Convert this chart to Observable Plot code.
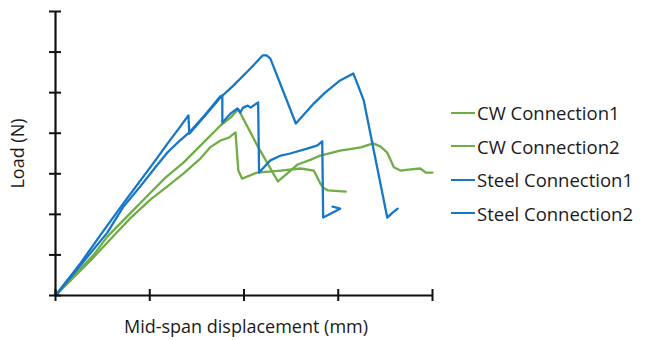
<!DOCTYPE html>
<html>
<head>
<meta charset="utf-8">
<script src="https://cdn.jsdelivr.net/npm/d3@7"></script>
<script src="https://cdn.jsdelivr.net/npm/@observablehq/plot@0.6"></script>
<style>
  html, body { margin: 0; padding: 0; background: #fff; }
  #wrap { position: relative; width: 646px; height: 340px; font-family: "Open Sans", "Noto Sans", sans-serif; }
  #legend { position: absolute; left: 451px; top: 96px; }
  .item { display: flex; align-items: center; height: 33.5px; font-size: 18.5px; color: #1a1a1a; }
  .sw { width: 24px; height: 0; border-top: 2.3px solid; margin-right: 2px; }
</style>
</head>
<body>
<div id="wrap"></div>
<script>
// Categories / series names
const seriesNames = ["CW Connection1", "CW Connection2", "Steel Connection1", "Steel Connection2"];
const seriesColors = ["#70ad47", "#70ad47", "#1677c7", "#1677c7"];

// Axis ticks (no labels shown in the reference)
const xTicks = [0, 1, 2, 3, 4];
const yTicks = [0, 1, 2, 3, 4, 5, 6, 7];

// Series values (displacement, load), arbitrary units
const cw1X = [0, 0.14, 0.27, 0.40, 0.55, 0.74, 1.01, 1.17, 1.36, 1.54, 1.75, 1.86, 1.94, 2.14, 2.36, 2.46, 2.57, 2.71, 2.81, 3.02, 3.24, 3.37, 3.45, 3.52, 3.59, 3.66, 3.77, 3.87, 3.93, 4.00];
const cw1Y = [0, 0.35, 0.67, 0.99, 1.45, 1.90, 2.54, 2.91, 3.28, 3.70, 4.19, 4.39, 4.59, 3.70, 2.81, 3.01, 3.23, 3.35, 3.45, 3.57, 3.65, 3.75, 3.67, 3.52, 3.16, 3.08, 3.11, 3.13, 3.03, 3.03];

const cw2X = [0, 0.16, 0.37, 0.62, 0.80, 1.01, 1.17, 1.36, 1.54, 1.64, 1.75, 1.84, 1.91, 1.94, 1.98, 2.14, 2.39, 2.60, 2.74, 2.81, 2.84, 2.89, 3.08];
const cw2Y = [0, 0.37, 0.86, 1.48, 1.92, 2.37, 2.66, 3.01, 3.38, 3.65, 3.82, 3.89, 4.02, 3.08, 2.88, 3.03, 3.08, 3.13, 3.08, 2.76, 2.66, 2.59, 2.56];

const st1X = [0, 0.27, 0.48, 0.72, 0.90, 1.06, 1.19, 1.31, 1.41, 1.42, 1.59, 1.75, 1.89, 2.07, 2.20, 2.24, 2.28, 2.55, 2.74, 2.86, 3.02, 3.16, 3.21, 3.27, 3.52, 3.58, 3.63];
const st1Y = [0, 0.81, 1.50, 2.27, 2.83, 3.33, 3.75, 4.12, 4.44, 3.99, 4.44, 4.88, 5.18, 5.60, 5.92, 5.92, 5.84, 4.24, 4.73, 5.00, 5.30, 5.47, 5.18, 4.81, 1.92, 2.05, 2.14];

const st2X = [0, 0.27, 0.55, 0.72, 0.90, 1.06, 1.19, 1.31, 1.42, 1.59, 1.75, 1.77, 1.77, 1.86, 1.93, 1.96, 1.99, 2.04, 2.07, 2.10, 2.15, 2.16, 2.28, 2.39, 2.49, 2.67, 2.78, 2.83, 2.84, 3.02, 2.94];
const st2Y = [0, 0.76, 1.55, 2.19, 2.69, 3.16, 3.53, 3.80, 4.02, 4.46, 4.91, 4.93, 4.26, 4.49, 4.61, 4.51, 4.63, 4.68, 4.63, 4.68, 4.76, 3.03, 3.33, 3.45, 3.50, 3.62, 3.70, 3.80, 1.92, 2.14, 2.19];

const xs = [cw1X, cw2X, st1X, st2X];
const ys = [cw1Y, cw2Y, st1Y, st2Y];

const lineMarks = seriesNames.map((name, i) => {
  const rows = xs[i].map((x, j) => ({x, y: ys[i][j]}));
  return Plot.line(rows, {x: "x", y: "y", stroke: seriesColors[i], strokeWidth: 2.3, strokeLinejoin: "round", strokeLinecap: "round"});
});

const chart = Plot.plot({
  width: 646,
  height: 340,
  marginLeft: 55,
  marginRight: 214,
  marginTop: 11,
  marginBottom: 45,
  style: {fontFamily: "'Open Sans', 'Noto Sans', sans-serif", background: "#fff"},
  x: {domain: [0, 4]},
  y: {domain: [0, 7]},
  marks: [
    ...lineMarks,
    Plot.ruleX([0], {stroke: "#111", strokeWidth: 2.2}),
    Plot.ruleY([0], {stroke: "#111", strokeWidth: 2.2}),
    Plot.axisX({ticks: xTicks, tickSize: 12, dy: -6, tickFormat: () => "", label: null, stroke: "#111", strokeWidth: 2}),
    Plot.axisY({ticks: yTicks, tickSize: 12, dx: 6, tickFormat: () => "", label: null, stroke: "#111", strokeWidth: 2}),
    Plot.text(["Mid-span displacement (mm)"], {frameAnchor: "bottom", textAnchor: "middle", lineAnchor: "middle", dy: 32, dx: 2, fontSize: 18, fill: "#1a1a1a"}),
    Plot.text(["Load (N)"], {frameAnchor: "left", textAnchor: "middle", lineAnchor: "middle", dx: -37, rotate: -90, fontSize: 18, fill: "#1a1a1a"})
  ]
});

const wrap = document.getElementById("wrap");
wrap.appendChild(chart);

const legend = document.createElement("div");
legend.id = "legend";
seriesNames.forEach((name, i) => {
  const item = document.createElement("div");
  item.className = "item";
  const sw = document.createElement("span");
  sw.className = "sw";
  sw.style.borderColor = seriesColors[i];
  const t = document.createElement("span");
  t.textContent = name;
  item.appendChild(sw);
  item.appendChild(t);
  legend.appendChild(item);
});
wrap.appendChild(legend);
</script>
</body>
</html>
